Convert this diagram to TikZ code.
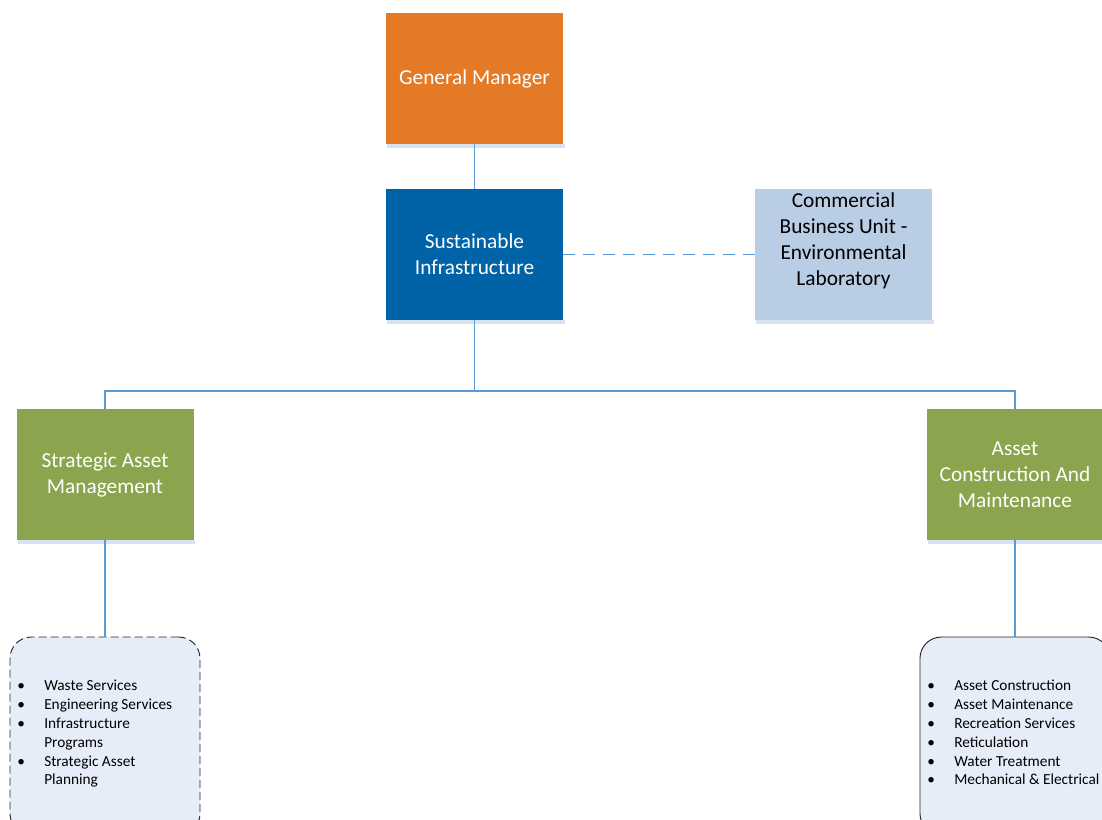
\documentclass[tikz,border=0pt]{standalone}
\usepackage{fontspec}
\setmainfont{Carlito}
\usetikzlibrary{positioning}

\definecolor{gmorange}{RGB}{228,121,38}
\definecolor{siblue}{RGB}{0,99,168}
\definecolor{cbublue}{RGB}{185,205,229}
\definecolor{unitgreen}{RGB}{138,165,78}
\definecolor{listfill}{RGB}{231,237,248}
\definecolor{linkblue}{RGB}{90,155,213}
\definecolor{shadowblue}{RGB}{214,226,242}

\tikzset{
  unitbox/.style={rectangle, minimum width=132.75pt, minimum height=98.25pt,
    inner sep=2pt, align=center, text=white,
    font=\fontsize{16}{19.5}\selectfont},
  listbox/.style={rectangle, rounded corners=16pt, fill=listfill,
    draw=black!85, line width=0.7pt, minimum width=142.5pt, minimum height=148.5pt},
  link/.style={draw=linkblue, line width=0.9pt},
  listtext/.style={inner sep=0pt, align=left, anchor=west,
    font=\fontsize{11.5}{14.1}\selectfont}
}

\newcommand{\itm}[1]{\makebox[20.25pt][l]{•}#1\\}
\newcommand{\cont}[1]{\hspace*{20.25pt}#1\\}

\begin{document}
\begin{tikzpicture}[x=0.75pt, y=-0.75pt]
\useasboundingbox (0,0) rectangle (1102,819);
\clip (0,0) rectangle (1102,819);

% top of the chart
\node[unitbox, fill=gmorange] (gm) at (474.5,78.5) {General Manager};
\node[unitbox, fill=siblue] (si) at (474.5,254.5) {Sustainable\\Infrastructure};
\node[unitbox, fill=cbublue] (cbu) at (843.5,254.5) {};
\node[align=center, font=\fontsize{16}{19.5}\selectfont] (cbutext) at (843.5,241)
  {Commercial\\Business Unit -\\Environmental\\Laboratory};

% branches
\node[unitbox, fill=unitgreen] (sam) at (105,474.5) {Strategic Asset\\Management};
\node[unitbox, fill=unitgreen] (acm) at (1015,474.5) {Asset\\Construction And\\Maintenance};

% shadows under the boxes
\foreach \n in {gm,si,cbu,sam,acm}
  \fill[shadowblue] ([xshift=1pt]\n.south west) rectangle ([xshift=1pt,yshift=-2.5pt]\n.south east);

% lists
\node[listbox, dashed, dash pattern=on 6pt off 3pt] (samlist) at (105,736) {};
\node[listbox] (acmlist) at (1015,736) {};

\node[listtext] (samitems) at (17,742) {%
  \itm{Waste Services}\itm{Engineering Services}\itm{Infrastructure}%
  \cont{Programs}\itm{Strategic Asset}\cont{Planning}};
\node[listtext] (acmitems) at (927,742) {%
  \itm{Asset Construction}\itm{Asset Maintenance}\itm{Recreation Services}%
  \itm{Reticulation}\itm{Water Treatment}\itm{Mechanical \& Electrical}};

% connectors
\coordinate (fork) at (474.5,391);
\path[link] (gm) -- (si);
\path[link, dashed, dash pattern=on 9pt off 6pt] (si) -- (cbu);
\path[link] (si.south) -- (fork) -| (sam.north);
\path[link] (fork) -| (acm.north);
\path[link] (sam.south) -- (samlist.north);
\path[link] (acm.south) -- (acmlist.north);
\end{tikzpicture}
\end{document}
